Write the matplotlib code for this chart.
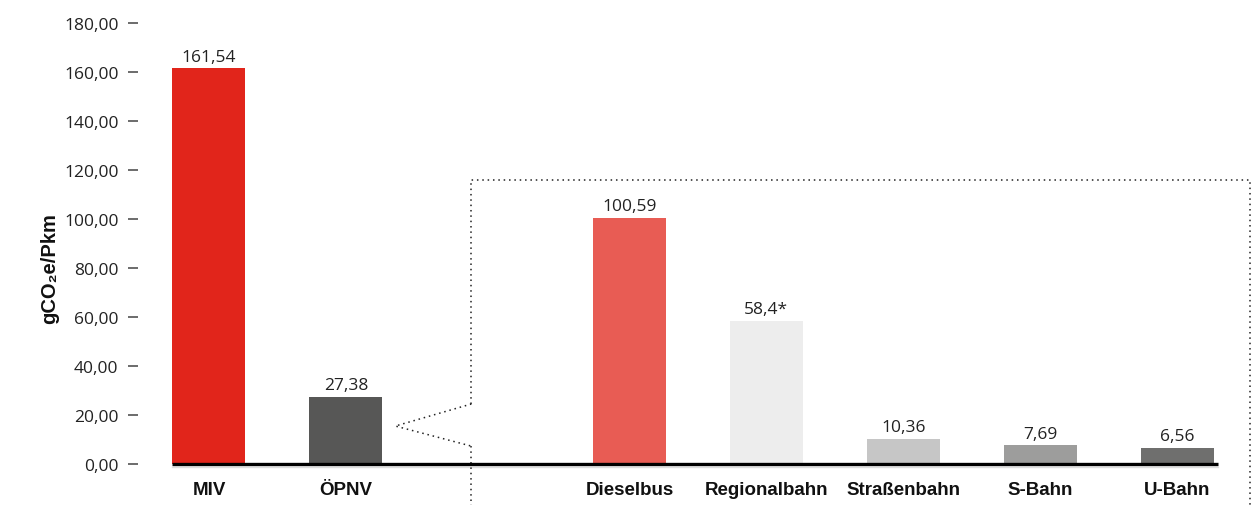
import numpy as np
import matplotlib.pyplot as plt

# data
categories = ['MIV', 'ÖPNV', 'Dieselbus', 'Regionalbahn', 'Straßenbahn', 'S-Bahn', 'U-Bahn']
values = [161.54, 27.38, 100.59, 58.4, 10.36, 7.69, 6.56]
value_labels = ['161,54', '27,38', '100,59', '58,4*', '10,36', '7,69', '6,56']
colors = ['#E1251B', '#575756', '#E85C54', '#EDEDED', '#C6C6C6', '#9D9D9C', '#6F6F6E']
yticks = [0, 20, 40, 60, 80, 100, 120, 140, 160, 180]

plt.rcParams['font.family'] = ['Open Sans', 'DejaVu Sans']
bold_font = ['Liberation Sans', 'DejaVu Sans']

# positions: two main groups, then ÖPNV breakdown shifted right
pos = np.arange(len(categories), dtype=float)
pos[2:] += 1.07
width = 0.533

fig = plt.figure(figsize=(12.54, 5.06), dpi=100)
ax = fig.add_axes([137.5 / 1254, 41 / 506, (1254 - 137.5) / 1254, 441 / 506])

ax.bar(pos, values, width=width, color=colors, zorder=2)

for x, v, lab in zip(pos, values, value_labels):
    ax.text(x, v + 1.4, lab, ha='center', va='bottom', fontsize=12.5, color='#222222')

ax.set_xlim(-0.522, 7.631)
ax.set_ylim(0, 180)

ax.set_yticks(yticks)
ax.set_yticklabels([f'{t:.2f}'.replace('.', ',') for t in yticks], fontsize=12.5, color='#222222')
ax.tick_params(axis='y', direction='out', length=7.2, width=1.1, color='#444444', pad=6.5)

ax.set_xticks(pos)
ax.set_xticklabels(categories, fontsize=13.5, fontweight='bold', color='#111111', family=bold_font)
ax.tick_params(axis='x', length=0, pad=12)

for s in ax.spines.values():
    s.set_visible(False)

# baseline
left = pos[0] - width / 2
right = pos[-1] + width / 2 + 0.03
ax.plot([left, right], [0, 0], color='black', lw=2.4, solid_capstyle='butt', zorder=3, clip_on=False)
ax.plot([left, right], [-1.1, -1.1], color='#dddddd', lw=1, zorder=1, clip_on=False)

# dotted zoom box
dot = dict(color='#222222', lw=1.1, linestyle=(0, (1, 2.5)), clip_on=False, zorder=1)
ax.plot([1.916, 1.916, 7.60, 7.60], [24.5, 115.9, 115.9, -16.7], **dot)
ax.plot([1.916, 1.361, 1.916], [24.5, 15.5, 7.3], **dot)
ax.plot([1.916, 1.916], [7.3, -16.7], **dot)

fig.text(50 / 1254, 0.47, 'gCO₂e/Pkm', rotation=90, ha='center', va='center',
         fontsize=14.5, fontweight='bold', color='#111111', family=bold_font)

fig.savefig('out.png', dpi=100)
